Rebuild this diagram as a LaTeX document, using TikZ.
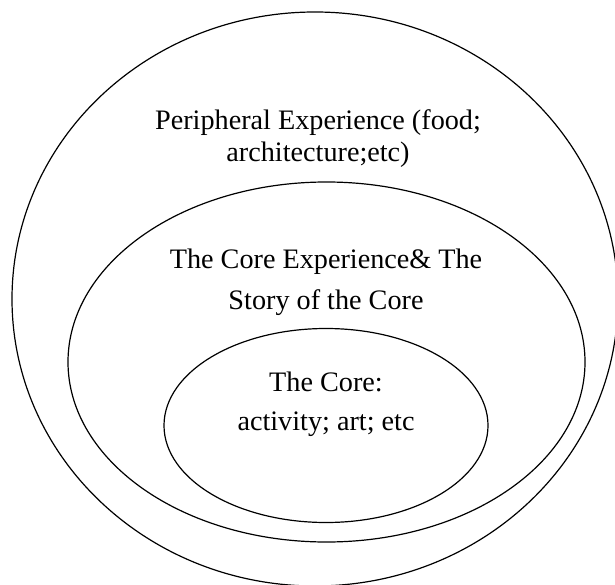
\documentclass[tikz,border=0pt]{standalone}
\usepackage{fontspec}
\setmainfont{Liberation Serif}
\usepackage{tikz}

\begin{document}
\begin{tikzpicture}[x=1pt,y=-1pt,line width=1.2pt,
  label text/.style={align=center,anchor=base,font=\fontsize{28.2}{32}\selectfont}]
\def\W{615}
\def\H{585}
\useasboundingbox (0,0) rectangle (\W,\H);

% Draw the outer ellipse
\draw (315,299) ellipse [x radius=303, y radius=287];

% Draw the middle ellipse
\draw (326.5,362) ellipse [x radius=258.5, y radius=180];

% Draw the inner ellipse
\draw (326,425.5) ellipse [x radius=162, y radius=97];

% Add labels
\node[label text] (peripheral) at (318,162) {Peripheral Experience (food;\\ architecture;etc)};
\node[label text] (experience) at (326,309) {The Core Experience\& The\\[9pt] Story of the Core};
\node[label text] (core) at (326,430) {The Core:\\[7pt] activity; art; etc};
\end{tikzpicture}
\end{document}
